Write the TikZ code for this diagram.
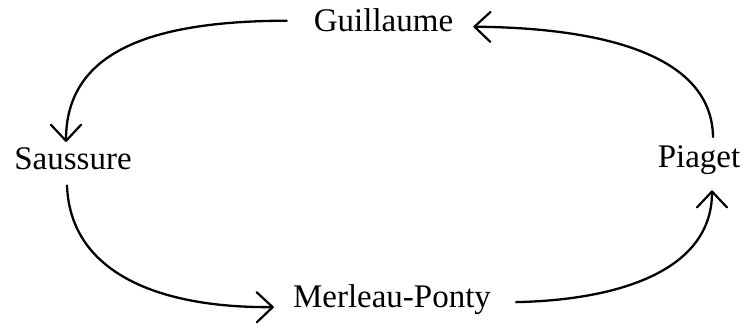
\documentclass[tikz,border=0pt]{standalone}
\usepackage{fontspec}
\setmainfont{Liberation Serif}
\usetikzlibrary{arrows.meta,calc}
\begin{document}
\begin{tikzpicture}[x=1pt,y=-1pt,
  lab/.style={inner sep=0pt,anchor=base,font=\fontsize{33}{40}\selectfont},
  conn/.style={line width=2.3pt,line cap=round,
    -{Straight Barb[length=16pt,width=30pt,line width=2.2pt,line cap=round,line join=round]}}]
\useasboundingbox (0,0) rectangle (745,331);
\node[lab] (G) at (383.5,32) {Guillaume};
\node[lab] (S) at (73,170) {Saussure};
\node[lab] (P) at (699,168) {Piaget};
\node[lab] (M) at (392,308) {Merleau-Ponty};
% Guillaume -> Saussure
\draw[conn] ($(G.west)+(-27,0)$) .. controls (150,21) and (66,52) .. ($(S.north)+(-7,-6)$);
% Saussure -> Merleau-Ponty
\draw[conn] ($(S.south)+(-6,15)$) .. controls (70,268) and (150,308) .. ($(M.west)+(-19,7)$);
% Merleau-Ponty -> Piaget
\draw[conn] ($(M.east)+(25,2)$) .. controls (620,300) and (712,270) .. ($(P.south)+(13,15)$);
% Piaget -> Guillaume
\draw[conn] ($(P.north)+(14,-9)$) .. controls (712,62) and (620,28) .. ($(G.east)+(20,6)$);
\end{tikzpicture}
\end{document}
